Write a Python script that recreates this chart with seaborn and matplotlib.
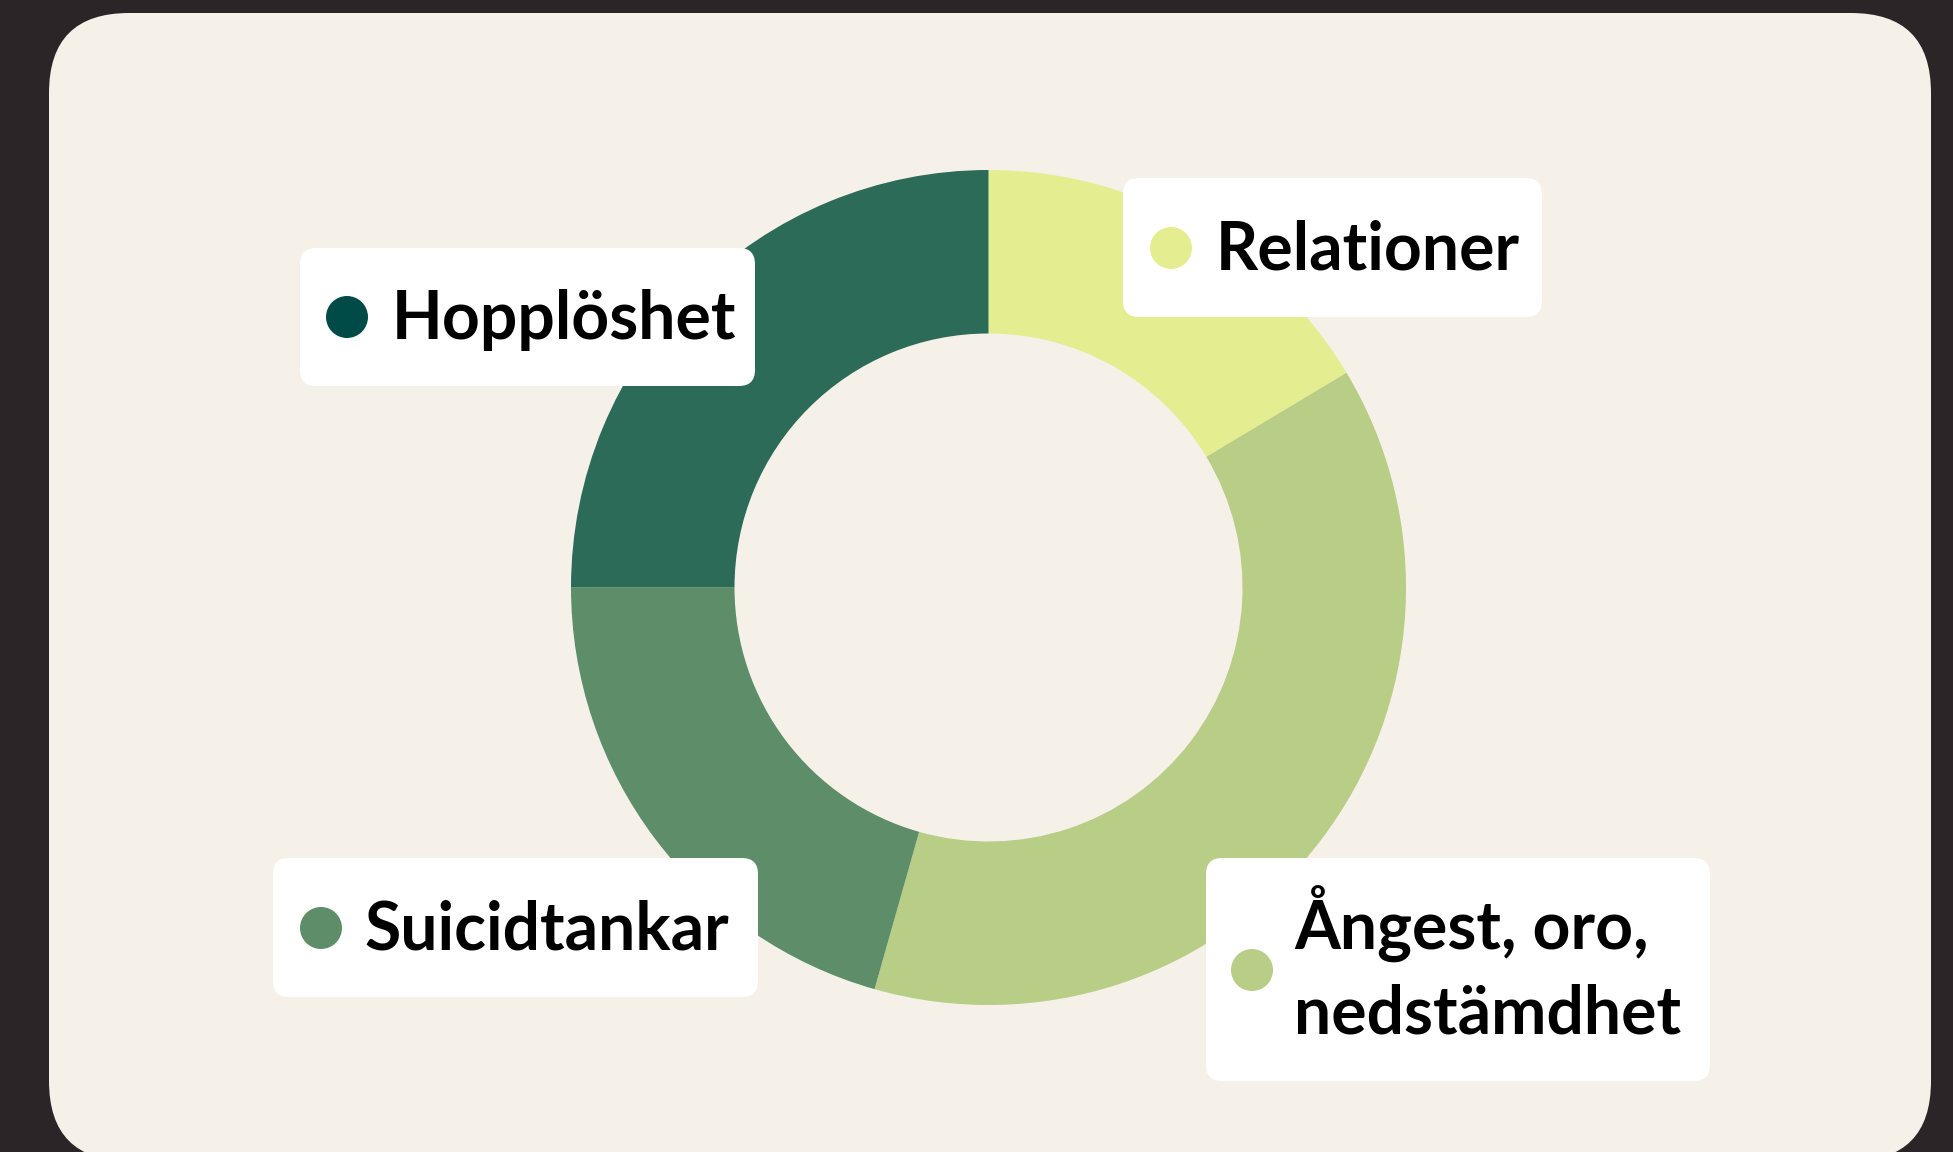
import matplotlib
matplotlib.use("Agg")
import matplotlib.pyplot as plt
from matplotlib.patches import FancyBboxPatch, Circle
import seaborn as sns

# ---- data ----
categories = ["Relationer", "Ångest, oro,\nnedstämdhet", "Suicidtankar", "Hopplöshet"]
values = [16.4, 38.0, 20.6, 25.0]
slice_colors = ["#e4ee90", "#b8cd86", "#5d8d69", "#2d6b59"]
dot_colors = ["#e4ee90", "#b8cd86", "#5d8d69", "#004a48"]

# ---- style ----
sns.set_theme(style="white")
plt.rcParams["font.family"] = ["Lato", "DejaVu Sans"]

W, H = 1953, 1152
fig = plt.figure(figsize=(W / 100, H / 100), dpi=100)
fig.patch.set_facecolor("#2c2528")
ax = fig.add_axes([0, 0, 1, 1])
ax.set_xlim(0, W)
ax.set_ylim(0, H)
ax.set_aspect("equal")
ax.axis("off")
ax.patch.set_alpha(0)


def Y(y):
    return H - y


# card
card = FancyBboxPatch((49, Y(1161)), 1931 - 49, 1161 - 13,
                      boxstyle="round,pad=0,rounding_size=80",
                      facecolor="#f5f1e9", edgecolor="none", zorder=1)
ax.add_patch(card)

# donut
cx, cy, R, r = 988.5, 587.5, 417.5, 254
wedges, _ = ax.pie(values, colors=slice_colors, startangle=90, counterclock=False,
                   center=(cx, Y(cy)), radius=R,
                   wedgeprops=dict(width=R - r, linewidth=0, antialiased=True),
                   frame=True)
for w in wedges:
    w.set_zorder(2)
ax.set_xlim(0, W)
ax.set_ylim(0, H)
ax.axis("off")

# labels: box (x0, y0, x1, y1), dot center, text x, first baseline
layout = {
    "Relationer": ((1123, 178, 1542, 317), (1171, 248), 1216, 269),
    "Ångest, oro,\nnedstämdhet": ((1206, 858, 1710, 1081), (1252, 970), 1294, 949),
    "Suicidtankar": ((273, 858, 758, 997), (321, 928), 364, 949),
    "Hopplöshet": ((300, 248, 755, 386), (347, 317), 392, 339),
}

for cat, dc in zip(categories, dot_colors):
    (x0, y0, x1, y1), (dx, dy), tx, ty = layout[cat]
    box = FancyBboxPatch((x0, Y(y1)), x1 - x0, y1 - y0,
                         boxstyle="round,pad=0,rounding_size=16",
                         facecolor="white", edgecolor="none", zorder=3)
    ax.add_patch(box)
    ax.add_patch(Circle((dx, Y(dy)), 21, facecolor=dc, edgecolor="none", zorder=4))
    for i, line in enumerate(cat.split("\n")):
        ax.text(tx, Y(ty + i * 85), line, fontsize=47.5, fontweight="bold",
                color="#000000", ha="left", va="baseline", zorder=5)

fig.savefig("out.png", dpi=100, facecolor=fig.get_facecolor())
